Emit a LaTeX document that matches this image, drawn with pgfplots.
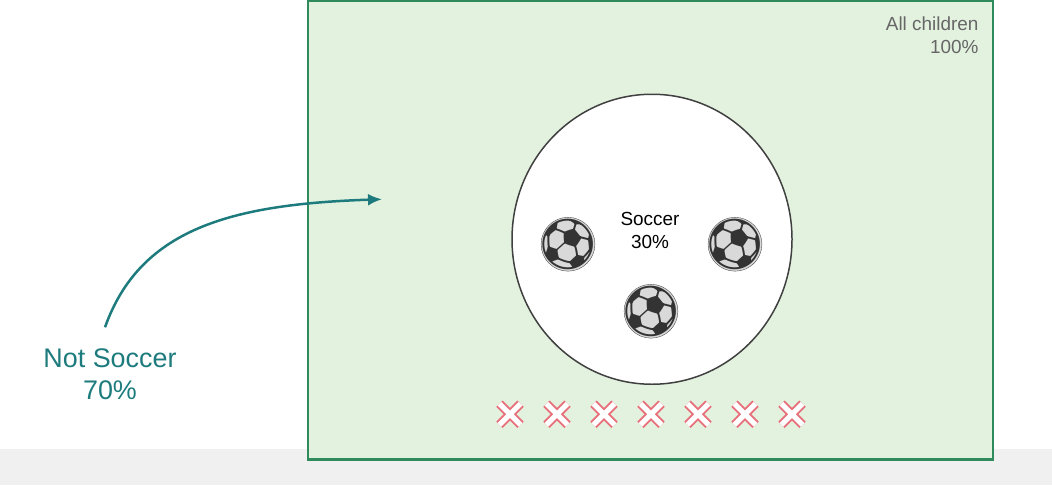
\documentclass[border=0pt]{standalone}
\usepackage{pgfplots}
\pgfplotsset{compat=1.18}
\usetikzlibrary{arrows.meta}
\usepackage{fontspec}
\setmainfont{Liberation Sans}
\newfontfamily\emoji{Noto Emoji}
\definecolor{boxgreen}{HTML}{E3F2DF}
\definecolor{edgegreen}{HTML}{2F8A5C}
\definecolor{teal2}{HTML}{1E7B7D}
\definecolor{crossred}{HTML}{E8707A}
\begin{document}
\begin{tikzpicture}
\begin{axis}[width=1052bp,height=506bp,scale only axis,
  xmin=0,xmax=1052,ymin=0,ymax=506,y dir=reverse,
  axis lines=none,ticks=none,clip=false]
\fill[black!6] (axis cs:0,470) rectangle (axis cs:1052,506);
\filldraw[fill=boxgreen,draw=edgegreen,line width=2.5pt] (axis cs:308,22) rectangle (axis cs:993,480);
\filldraw[fill=white,draw=black!75,line width=1.5pt] (axis cs:652,260) ellipse [x radius=140, y radius=145];
\node[anchor=north east,align=right,text=black!60,font=\fontsize{19}{23}\selectfont] at (axis cs:982,34) {All children\\100\%};
\node[align=center,font=\fontsize{19}{23}\selectfont] at (axis cs:650,251) {Soccer\\30\%};
\node[align=center,text=teal2,font=\fontsize{27}{33}\selectfont] at (axis cs:110,395) {Not Soccer\\70\%};
\draw[teal2,line width=2.5pt,-{Latex[length=14pt,width=12pt]}] (axis cs:105,348) .. controls (axis cs:140,250) and (axis cs:230,225) .. (axis cs:382,220);
% soccer balls
\addplot[only marks,mark=*,mark size=27,draw=black!70,fill=black!15] coordinates {(568,265) (735,265) (651,332)};
\addplot[only marks,mark=none,nodes near coords={\emoji\fontsize{50}{50}\selectfont ⚽},nodes near coords align=center,text=black!80] coordinates {(568,265) (735,265) (651,332)};
% crosses
\addplot[only marks,mark=x,mark size=15,line width=9pt,crossred] coordinates {(510,435) (557,435) (604,435) (651,435) (698,435) (745,435) (792,435)};
\addplot[only marks,mark=x,mark size=15,line width=5pt,white] coordinates {(510,435) (557,435) (604,435) (651,435) (698,435) (745,435) (792,435)};
\end{axis}
\end{tikzpicture}
\end{document}
